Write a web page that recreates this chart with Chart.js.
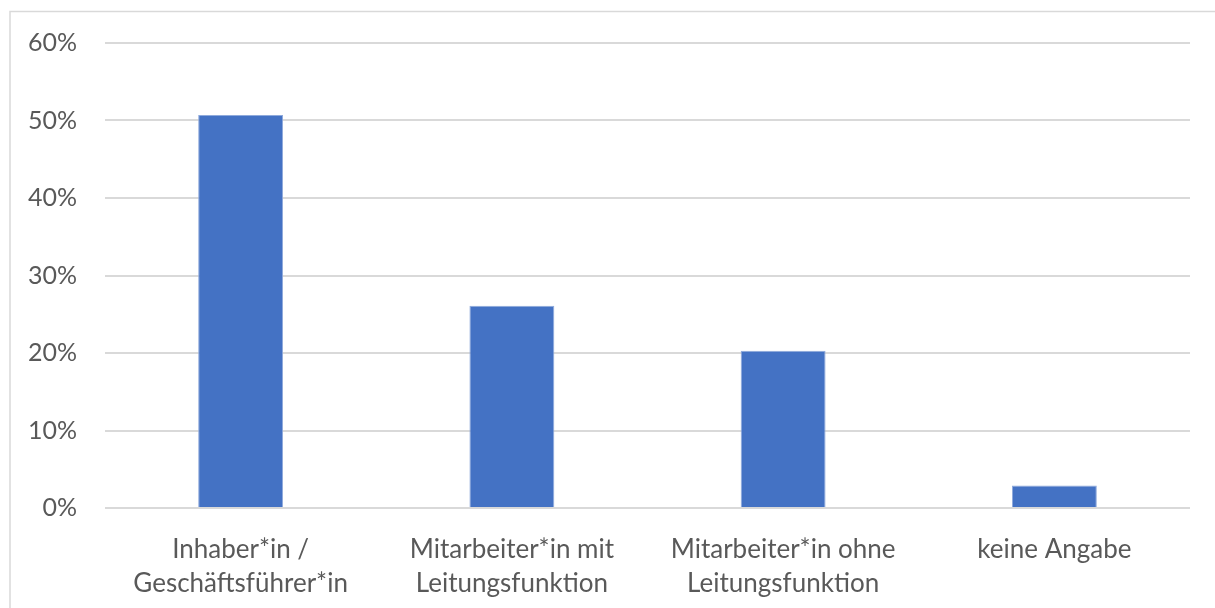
<!DOCTYPE html>
<html>
<head>
<meta charset="utf-8">
<style>
  html, body { margin: 0; padding: 0; background: #ffffff; }
  #wrap { position: relative; width: 1215px; height: 608px; }
</style>
<script src="https://cdn.jsdelivr.net/npm/chart.js@4/dist/chart.umd.min.js"></script>
</head>
<body>
<div id="wrap"><canvas id="chart" width="1215" height="608"></canvas></div>
<script>
const categories = [
  ["Inhaber*in /", "Geschäftsführer*in"],
  ["Mitarbeiter*in mit", "Leitungsfunktion"],
  ["Mitarbeiter*in ohne", "Leitungsfunktion"],
  "keine Angabe"
];
const shares = [50.7, 26.1, 20.3, 2.9];
const tickValues = [0, 10, 20, 30, 40, 50, 60];

const FONT = "Lato, 'Open Sans', sans-serif";
const TEXT = "#595959";
const GRID = "#d9d9d9";

// thin frame around the whole chart
const framePlugin = {
  id: "frame",
  beforeDraw(chart) {
    const ctx = chart.ctx;
    ctx.save();
    ctx.strokeStyle = "#d9d9d9";
    ctx.lineWidth = 1.5;
    ctx.strokeRect(10, 11.5, 1300, 700);
    ctx.restore();
  }
};

new Chart(document.getElementById("chart"), {
  type: "bar",
  data: {
    labels: categories,
    datasets: [{
      data: shares,
      backgroundColor: "#4472C4",
      borderColor: "#8faadc",
      borderWidth: 1,
      categoryPercentage: 1,
      barPercentage: 0.313
    }]
  },
  options: {
    responsive: false,
    animation: false,
    devicePixelRatio: 1,
    layout: { padding: { left: 0, right: 25, top: 33, bottom: 0 } },
    plugins: { legend: { display: false }, tooltip: { enabled: false } },
    scales: {
      x: {
        grid: { display: false },
        border: { display: false },
        ticks: {
          color: TEXT,
          font: { family: FONT, size: 26, lineHeight: 1.31 },
          padding: 17,
          maxRotation: 0,
          autoSkip: false
        },
        afterFit(scale) { scale.height = 100; }
      },
      y: {
        min: 0,
        max: 60,
        afterBuildTicks(scale) { scale.ticks = tickValues.map(v => ({ value: v })); },
        grid: { color: GRID, lineWidth: 2, drawTicks: false },
        border: { display: false },
        ticks: {
          color: TEXT,
          font: { family: FONT, size: 25 },
          padding: 28,
          callback: v => v + "%"
        },
        afterFit(scale) { scale.width = 105; }
      }
    }
  },
  plugins: [framePlugin]
});
</script>
</body>
</html>
